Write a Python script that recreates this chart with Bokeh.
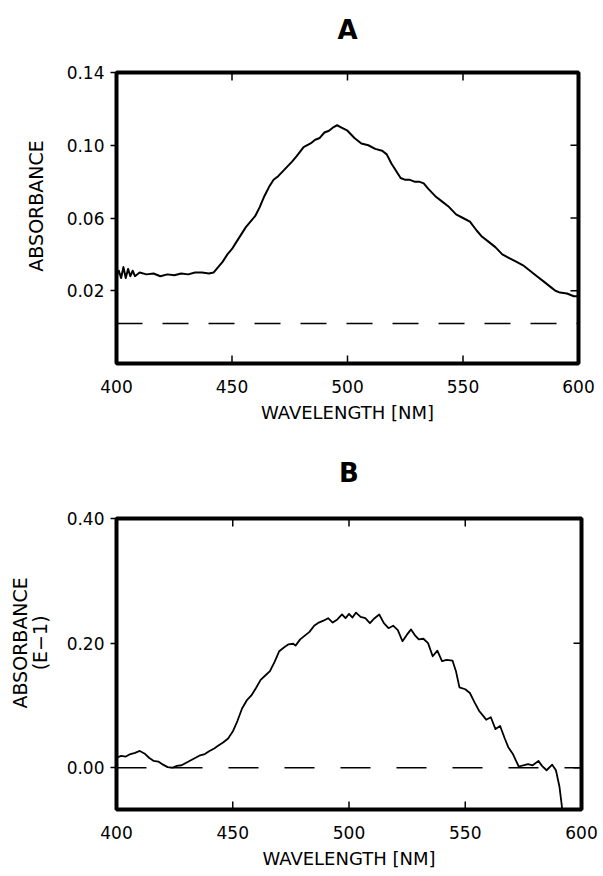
from bokeh.plotting import figure
from bokeh.models import Span, Range1d, LinearAxis, NumeralTickFormatter, FixedTicker
from bokeh.layouts import column
from bokeh.embed import file_html
from bokeh.resources import INLINE

# ---------------- data: panel A ----------------
wl_a = [400, 401, 402, 403, 404, 405, 406, 407, 408, 410, 413, 416, 419, 422, 425, 428,
        431, 434, 437, 440, 442, 444, 446, 448, 450, 452, 454, 456, 458, 460, 462, 464,
        466, 468, 470, 473, 476, 478, 481, 484, 486, 488, 490, 492, 494, 495.5, 497, 500,
        503, 506, 509, 512, 515, 517, 519, 521, 523, 525, 527, 529, 531, 533, 535, 538,
        541, 544, 547, 550, 553, 556, 558, 561, 564, 567, 570, 573, 576, 579, 582, 585,
        588, 590, 592, 595, 598, 600]
abs_a = [0.028, 0.031, 0.027, 0.033, 0.027, 0.032, 0.028, 0.031, 0.028, 0.030, 0.029, 0.0295,
         0.028, 0.029, 0.0285, 0.0295, 0.029, 0.030, 0.030, 0.0295, 0.030, 0.033, 0.036, 0.040,
         0.043, 0.047, 0.051, 0.055, 0.058, 0.061, 0.066, 0.072, 0.077, 0.081, 0.083, 0.087,
         0.091, 0.094, 0.099, 0.101, 0.103, 0.104, 0.107, 0.108, 0.110, 0.111, 0.110, 0.108,
         0.104, 0.101, 0.100, 0.098, 0.097, 0.095, 0.090, 0.086, 0.082, 0.081, 0.081, 0.080,
         0.080, 0.079, 0.076, 0.072, 0.069, 0.066, 0.062, 0.060, 0.058, 0.053, 0.050, 0.047,
         0.044, 0.040, 0.038, 0.036, 0.034, 0.031, 0.028, 0.025, 0.022, 0.020, 0.019, 0.0185,
         0.017, 0.017]
baseline_a = 0.002
yticks_a = [0.02, 0.06, 0.10, 0.14]
yrange_a = (-0.02, 0.14)

# ---------------- data: panel B ----------------
wl_b = [400, 402, 404, 406, 408, 410, 412, 414, 416, 418, 420, 422, 424, 426, 428, 430, 432,
        434, 436, 438, 440, 442, 444, 446, 448, 450, 452, 454, 456, 458, 460, 462, 464, 466,
        468, 470, 472, 474, 476, 477, 479, 481, 483, 485, 487, 489, 491, 493, 495, 497, 498.5,
        500, 501.5, 503, 505, 507, 509, 511, 513, 515, 517, 519, 521, 523, 525, 526.7, 528.5,
        530, 532, 534, 536, 538, 540, 542, 544.5, 546, 547.5, 550, 552, 554, 556, 558, 559,
        561, 563, 565, 567, 568.5, 570.5, 573, 575, 577, 579, 581.5, 583, 585, 587.4, 589,
        590.5, 591.5, 592.2]
abs_b = [0.016, 0.019, 0.018, 0.022, 0.024, 0.027, 0.023, 0.016, 0.011, 0.010, 0.005, 0.001,
         0.000, 0.003, 0.004, 0.008, 0.012, 0.016, 0.020, 0.022, 0.027, 0.031, 0.036, 0.041,
         0.047, 0.058, 0.075, 0.095, 0.108, 0.116, 0.128, 0.141, 0.148, 0.155, 0.170, 0.187,
         0.193, 0.198, 0.199, 0.196, 0.206, 0.212, 0.218, 0.228, 0.233, 0.236, 0.240, 0.233,
         0.238, 0.246, 0.240, 0.247, 0.241, 0.249, 0.242, 0.240, 0.232, 0.240, 0.246, 0.232,
         0.224, 0.228, 0.221, 0.203, 0.214, 0.222, 0.212, 0.206, 0.207, 0.200, 0.179, 0.188,
         0.171, 0.173, 0.172, 0.155, 0.129, 0.126, 0.120, 0.105, 0.091, 0.082, 0.077, 0.081,
         0.062, 0.067, 0.047, 0.033, 0.022, 0.002, 0.004, 0.006, 0.004, 0.011, 0.003, -0.004,
         0.005, -0.004, -0.030, -0.060, -0.090]
baseline_b = 0.0
yticks_b = [0.0, 0.20, 0.40]
yrange_b = (-0.067, 0.40)

xticks = [400, 450, 500, 550, 600]
xrange_ = (400, 600)

FONT = "DejaVu Sans"
NB = "\u00a0"
FRAME_W_A, FRAME_W_B, FRAME_H = 462, 465, 291
TICK_PX = 8


def make_panel(title, wl, ab, base, yticks, yrange, ylabel, fw, rb, tb, bb, dash,
               title_standoff, ylab_standoff, ylab_size, line_w):
    p = figure(title=None, frame_width=fw, frame_height=FRAME_H,
               min_border_left=116, min_border_right=rb, min_border_top=tb, min_border_bottom=bb,
               x_range=Range1d(*xrange_), y_range=Range1d(*yrange),
               output_backend="svg", toolbar_location=None,
               background_fill_color="white", border_fill_color="white")
    p.grid.visible = False
    p.outline_line_color = "black"
    p.outline_line_width = 4
    p.outline_line_alpha = 1.0

    xa = p.below[0]
    xa.ticker = FixedTicker(ticks=xticks)
    xa.major_tick_in = 0
    xa.major_tick_out = 0
    xa.minor_tick_line_color = None
    xa.axis_line_color = None
    xa.major_label_text_font = FONT
    xa.major_label_text_font_size = "17px"
    xa.major_label_text_color = "black"
    xa.major_label_standoff = 16
    xa.axis_label = "WAVELENGTH [NM]"
    xa.axis_label_text_font = FONT
    xa.axis_label_text_font_size = "18px"
    xa.axis_label_text_font_style = "normal"
    xa.axis_label_text_color = "black"
    xa.axis_label_standoff = 6

    ya = p.left[0]
    ya.ticker = FixedTicker(ticks=yticks)
    ya.formatter = NumeralTickFormatter(format="0.00")
    ya.major_tick_in = 0
    ya.major_tick_out = 6
    ya.minor_tick_line_color = None
    ya.axis_line_color = None
    ya.major_tick_line_width = 1.5
    ya.major_tick_line_color = "black"
    ya.major_label_text_font = FONT
    ya.major_label_text_font_size = "17px"
    ya.major_label_text_color = "black"
    ya.major_label_standoff = 6
    ya.axis_label = ylabel
    ya.axis_label_text_font = FONT
    ya.axis_label_text_font_size = ylab_size
    ya.axis_label_text_font_style = "normal"
    ya.axis_label_text_color = "black"
    ya.axis_label_text_line_height = 0.9
    ya.axis_label_standoff = ylab_standoff

    # panel letter, centred above the frame (an axis with no ticks, only its label)
    head = LinearAxis(ticker=FixedTicker(ticks=[]), axis_line_color=None,
                      major_tick_line_color=None, minor_tick_line_color=None,
                      axis_label=title, axis_label_text_font=FONT,
                      axis_label_text_font_size="26px", axis_label_text_font_style="bold",
                      axis_label_text_color="black", axis_label_standoff=title_standoff)
    p.add_layout(head, "above")

    # inward ticks on bottom, top and right edges of the frame (length in px -> data units)
    dy = TICK_PX * (yrange[1] - yrange[0]) / FRAME_H
    dx = TICK_PX * (xrange_[1] - xrange_[0]) / fw
    inner_x = xticks[1:-1]
    p.segment(x0=inner_x, x1=inner_x, y0=[yrange[0]] * len(inner_x),
              y1=[yrange[0] + dy] * len(inner_x), line_color="black", line_width=1.5)
    p.segment(x0=inner_x, x1=inner_x, y0=[yrange[1]] * len(inner_x),
              y1=[yrange[1] - dy] * len(inner_x), line_color="black", line_width=1.5)
    inner_y = [t for t in yticks if yrange[0] < t < yrange[1]]
    p.segment(x0=[xrange_[1]] * len(inner_y), x1=[xrange_[1] - dx] * len(inner_y),
              y0=inner_y, y1=inner_y, line_color="black", line_width=1.5)

    p.add_layout(Span(location=base, dimension="width", line_color="black",
                      line_width=1.6, line_dash=dash))
    p.line(wl, ab, line_color="black", line_width=line_w, line_join="round")
    return p


pa = make_panel("A", wl_a, abs_a, baseline_a, yticks_a, yrange_a, NB * 4 + "ABSORBANCE",
                fw=FRAME_W_A, rb=22, tb=72, bb=75, dash="26 20",
                title_standoff=28, ylab_standoff=17, ylab_size="19px", line_w=2.0)
pb = make_panel("B", wl_b, abs_b, baseline_b, yticks_b, yrange_b,
                NB * 7 + "ABSORBANCE\n" + NB * 7 + "(E\u22121)",
                fw=FRAME_W_B, rb=19, tb=80, bb=60, dash="30 26",
                title_standoff=31, ylab_standoff=13, ylab_size="19px", line_w=1.8)

layout = column(pa, pb, spacing=0)
open("out.html", "w").write(file_html(layout, INLINE))
